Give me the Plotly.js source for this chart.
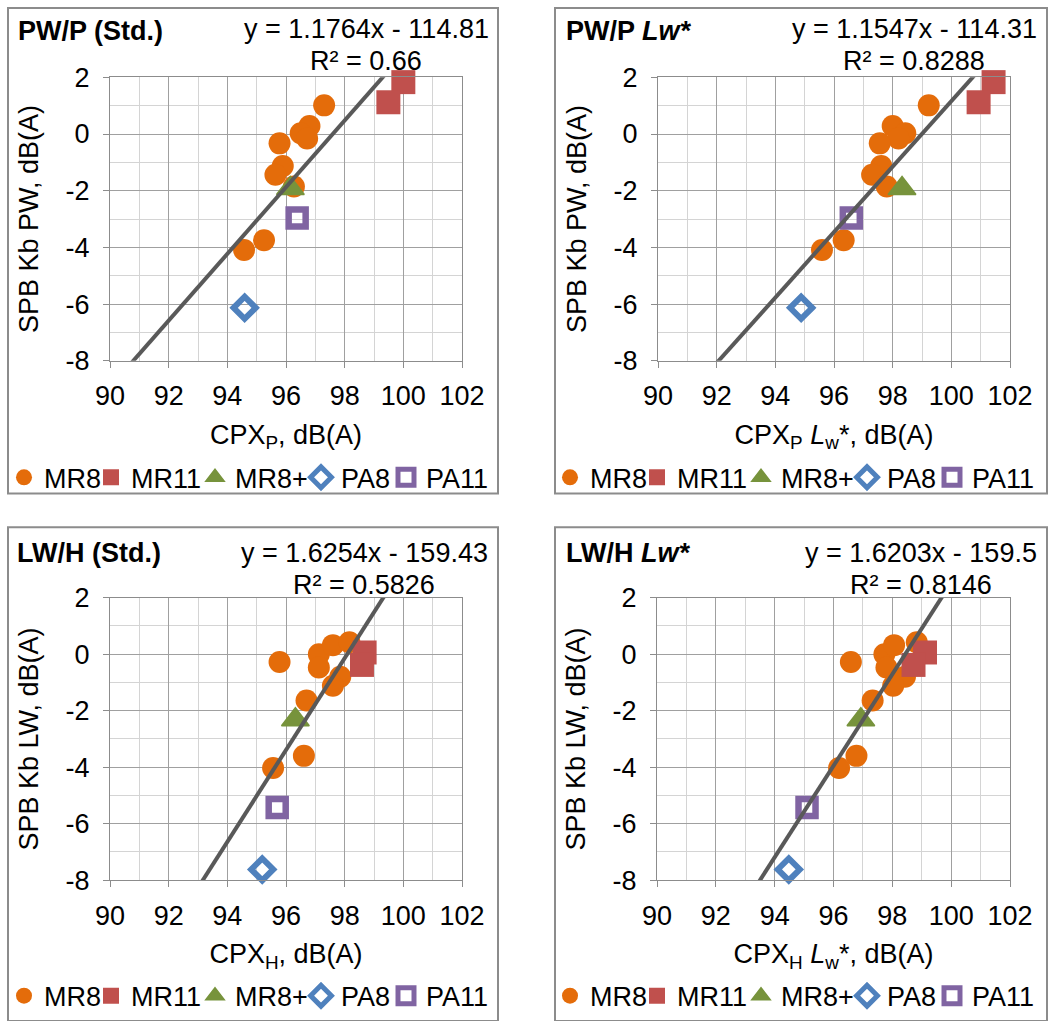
<!DOCTYPE html>
<html><head><meta charset="utf-8">
<script src="https://cdn.plot.ly/plotly-3.0.1.min.js"></script>
<style>html,body{margin:0;padding:0;background:#fff;overflow:hidden;} #chart{width:1048px;height:1021px;overflow:hidden;}</style>
</head><body><div id="chart"></div>
<script>
// ---------------- DATA ----------------
const seriesNames = ['MR8', 'MR11', 'MR8+', 'PA8', 'PA11'];

// SPB Kb PW, dB(A)  (y values, panels 1 & 2)
const pwMR8     = [1.01, 0.28, 0.03, -0.16, -0.33, -1.13, -1.44, -1.85, -3.75, -4.09];
const pwMR11    = [1.83, 1.12];
const pwMR8plus = [-1.92];
const pwPA8     = [-6.13];
const pwPA11    = [-2.96];

// CPX_P, dB(A)  (panel 1 x values)
const cpxP_MR8     = [97.30, 96.80, 96.50, 96.72, 95.78, 95.89, 95.64, 96.27, 95.25, 94.57];
const cpxP_MR11    = [100.00, 99.49];
const cpxP_MR8plus = [96.15];
const cpxP_PA8     = [94.59];
const cpxP_PA11    = [96.38];

// CPX_P Lw*, dB(A)  (panel 2 x values)
const cpxPLw_MR8     = [99.23, 98.00, 98.43, 98.20, 97.56, 97.61, 97.30, 97.80, 96.33, 95.59];
const cpxPLw_MR11    = [101.44, 100.93];
const cpxPLw_MR8plus = [98.32];
const cpxPLw_PA8     = [94.88];
const cpxPLw_PA11    = [96.59];

// SPB Kb LW, dB(A)  (y values, panels 3 & 4)
const lwMR8     = [-0.28, 0.00, -0.47, 0.32, 0.42, -0.80, -1.12, -1.64, -3.60, -4.03];
const lwMR11    = [0.06, -0.38];
const lwMR8plus = [-2.32];
const lwPA8     = [-7.62];
const lwPA11    = [-5.43];

// CPX_H, dB(A)  (panel 3 x values)
const cpxH_MR8     = [95.78, 97.12, 97.12, 97.60, 98.16, 97.85, 97.60, 96.70, 96.61, 95.56];
const cpxH_MR11    = [98.68, 98.59];
const cpxH_MR8plus = [96.32];
const cpxH_PA8     = [95.19];
const cpxH_PA11    = [95.70];

// CPX_H Lw*, dB(A)  (panel 4 x values)
const cpxHLw_MR8     = [96.59, 97.73, 97.80, 98.06, 98.83, 98.43, 98.03, 97.33, 96.78, 96.19];
const cpxHLw_MR11    = [99.11, 98.72];
const cpxHLw_MR8plus = [96.93];
const cpxHLw_PA8     = [94.48];
const cpxHLw_PA11    = [95.10];

// Linear trendlines shown on the chart
const trendSlope     = [1.1764, 1.1547, 1.6254, 1.6203];
const trendIntercept = [-114.81, -114.31, -159.43, -159.5];
const trendEqText    = ['y = 1.1764x - 114.81', 'y = 1.1547x - 114.31', 'y = 1.6254x - 159.43', 'y = 1.6203x - 159.5'];
const trendR2Text    = ['R² = 0.66', 'R² = 0.8288', 'R² = 0.5826', 'R² = 0.8146'];

// Titles and ticks
const panelTitles = ['<b>PW/P (Std.)</b>', '<b>PW/P <i>Lw*</i></b>', '<b>LW/H (Std.)</b>', '<b>LW/H <i>Lw*</i></b>'];
const xTitles = ['CPX<sub>P</sub>, dB(A)', 'CPX<sub>P</sub> <i>L</i><sub>w</sub>*, dB(A)', 'CPX<sub>H</sub>, dB(A)', 'CPX<sub>H</sub> <i>L</i><sub>w</sub>*, dB(A)'];
const yTitles = ['SPB Kb PW, dB(A)', 'SPB Kb PW, dB(A)', 'SPB Kb LW, dB(A)', 'SPB Kb LW, dB(A)'];
const xRange = [90, 102];
const yRange = [-8, 2];
const xTickVals = [90, 92, 94, 96, 98, 100, 102];
const xTickText = ['90', '92', '94', '96', '98', '100', '102'];
const xMinorVals = [91, 93, 95, 97, 99, 101];
const yTickVals = [-8, -6, -4, -2, 0, 2];
const yTickText = ['-8', '-6', '-4', '-2', '0', '2'];
const yMinorVals = [-7, -5, -3, -1, 1];

const panelX = [
  [cpxP_MR8, cpxP_MR11, cpxP_MR8plus, cpxP_PA8, cpxP_PA11],
  [cpxPLw_MR8, cpxPLw_MR11, cpxPLw_MR8plus, cpxPLw_PA8, cpxPLw_PA11],
  [cpxH_MR8, cpxH_MR11, cpxH_MR8plus, cpxH_PA8, cpxH_PA11],
  [cpxHLw_MR8, cpxHLw_MR11, cpxHLw_MR8plus, cpxHLw_PA8, cpxHLw_PA11]
];
const panelY = [
  [pwMR8, pwMR11, pwMR8plus, pwPA8, pwPA11],
  [pwMR8, pwMR11, pwMR8plus, pwPA8, pwPA11],
  [lwMR8, lwMR11, lwMR8plus, lwPA8, lwPA11],
  [lwMR8, lwMR11, lwMR8plus, lwPA8, lwPA11]
];

// ---------------- STYLE / LAYOUT ----------------
const W = 1048, H = 1021;
const px = v => v / W;
const py = v => 1 - v / H;
const FONT = 'Liberation Sans, Arial, sans-serif';
const FS = 27;

const markerStyles = [
  {symbol: 'circle', size: 22, color: '#E46C0A'},
  {symbol: 'square', size: 24, color: '#C0504D'},
  {symbol: 'triangle-up', size: 24, color: '#77933C', line: {width: 1.5, color: '#77933C'}},
  {symbol: 'diamond-open', size: 17, color: '#4F81BD', line: {width: 6, color: '#4F81BD'}},
  {symbol: 'square-open', size: 17, color: '#8064A2', line: {width: 6.5, color: '#8064A2'}}
];
const legendWidths = [42, 59, 61, 40, 66];

const panels = [
  {plotX: [110, 462], plotY: [78, 364], frame: [8, 8, 498, 498], title: [16, 31], eqX: 366, eqMid: 45, legX: 4, legY: 482},
  {plotX: [658, 1010], plotY: [78, 364], frame: [555, 8, 1047, 498], title: [564, 31], eqX: 914, eqMid: 45, legX: 550, legY: 482},
  {plotX: [110, 462], plotY: [603, 888], frame: [8, 532, 498, 1030], title: [15, 558], eqX: 364, eqMid: 574, legX: 4, legY: 1005},
  {plotX: [657, 1010], plotY: [603, 888], frame: [555, 532, 1047, 1030], title: [564, 558], eqX: 921, eqMid: 574, legX: 550, legY: 1005}
];

const traces = [];
const layout = {
  width: W, height: H,
  margin: {l: 0, r: 0, t: 0, b: 0},
  paper_bgcolor: '#ffffff', plot_bgcolor: 'rgba(0,0,0,0)',
  font: {family: FONT, size: FS, color: '#000000'},
  showlegend: true,
  annotations: [], shapes: []
};

panels.forEach((p, i) => {
  const n = i + 1;
  const sfx = n === 1 ? '' : String(n);
  const xa = 'x' + sfx, ya = 'y' + sfx;
  const legName = 'legend' + sfx;

  seriesNames.forEach((name, s) => {
    const ms = markerStyles[s];
    traces.push({
      type: 'scatter', mode: 'markers', name: name,
      x: panelX[i][s], y: panelY[i][s],
      xaxis: xa, yaxis: ya, legend: legName,
      legendwidth: legendWidths[s],
      cliponaxis: false,
      marker: {symbol: ms.symbol, size: ms.size, color: ms.color, line: ms.line || {width: 0}}
    });
  });
  // trendline from the displayed equation, across the axis range
  traces.push({
    type: 'scatter', mode: 'lines', showlegend: false, hoverinfo: 'skip',
    x: xRange, y: xRange.map(v => trendSlope[i] * v + trendIntercept[i]),
    xaxis: xa, yaxis: ya,
    line: {color: '#595959', width: 4}
  });

  layout['xaxis' + sfx] = {
    domain: [px(p.plotX[0]), px(p.plotX[1])], anchor: ya,
    range: xRange, tickmode: 'array', tickvals: xTickVals, ticktext: xTickText,
    ticks: 'outside', ticklen: 6, tickcolor: '#8c8c8c', ticklabelstandoff: 5,
    showline: true, mirror: true, linecolor: '#8c8c8c', linewidth: 1,
    showgrid: true, gridcolor: '#a0a0a0', gridwidth: 1, zeroline: false,
    minor: {tickmode: 'array', tickvals: xMinorVals, showgrid: true, gridcolor: '#d4d4d4', ticks: ''},
    tickfont: {size: FS, color: '#000'},
    title: {text: xTitles[i], standoff: 14, font: {size: FS, color: '#000'}},
    automargin: false, fixedrange: true
  };
  layout['yaxis' + sfx] = {
    domain: [py(p.plotY[1]), py(p.plotY[0])], anchor: xa,
    range: yRange, tickmode: 'array', tickvals: yTickVals, ticktext: yTickText,
    ticks: 'outside', ticklen: 6, tickcolor: '#8c8c8c', ticklabelstandoff: 8,
    showline: true, mirror: true, linecolor: '#8c8c8c', linewidth: 1,
    showgrid: true, gridcolor: '#a0a0a0', gridwidth: 1, zeroline: false,
    minor: {tickmode: 'array', tickvals: yMinorVals, showgrid: true, gridcolor: '#d4d4d4', ticks: ''},
    tickfont: {size: FS, color: '#000'},
    title: {text: yTitles[i], standoff: 19, font: {size: FS, color: '#000'}},
    automargin: false, fixedrange: true
  };

  layout[legName] = {
    orientation: 'h', x: px(p.legX), xanchor: 'left', y: py(p.legY), yanchor: 'middle',
    font: {size: FS, color: '#000', family: FONT}, bgcolor: 'rgba(0,0,0,0)',
    borderwidth: 0, itemwidth: 30, itemclick: false, itemdoubleclick: false
  };

  layout.shapes.push({
    type: 'rect', xref: 'paper', yref: 'paper', layer: 'below',
    x0: px(p.frame[0]), x1: px(p.frame[2]), y0: py(p.frame[3]), y1: py(p.frame[1]),
    line: {color: '#8c8c8c', width: 2}, fillcolor: 'rgba(0,0,0,0)'
  });

  layout.annotations.push(
    {xref: 'paper', yref: 'paper', x: px(p.title[0]), y: py(p.title[1]), xanchor: 'left', yanchor: 'middle',
     text: panelTitles[i], showarrow: false, font: {size: FS, color: '#000'}},
    {xref: 'paper', yref: 'paper', x: px(p.eqX), y: py(p.eqMid), xanchor: 'center', yanchor: 'bottom',
     text: trendEqText[i], showarrow: false, borderpad: 0, font: {size: FS, color: '#000'}},
    {xref: 'paper', yref: 'paper', x: px(p.eqX), y: py(p.eqMid), xanchor: 'center', yanchor: 'top',
     text: trendR2Text[i], showarrow: false, borderpad: 0, font: {size: FS, color: '#000'}}
  );
});

Plotly.newPlot('chart', traces, layout, {displayModeBar: false, staticPlot: true});
</script>
</body></html>
